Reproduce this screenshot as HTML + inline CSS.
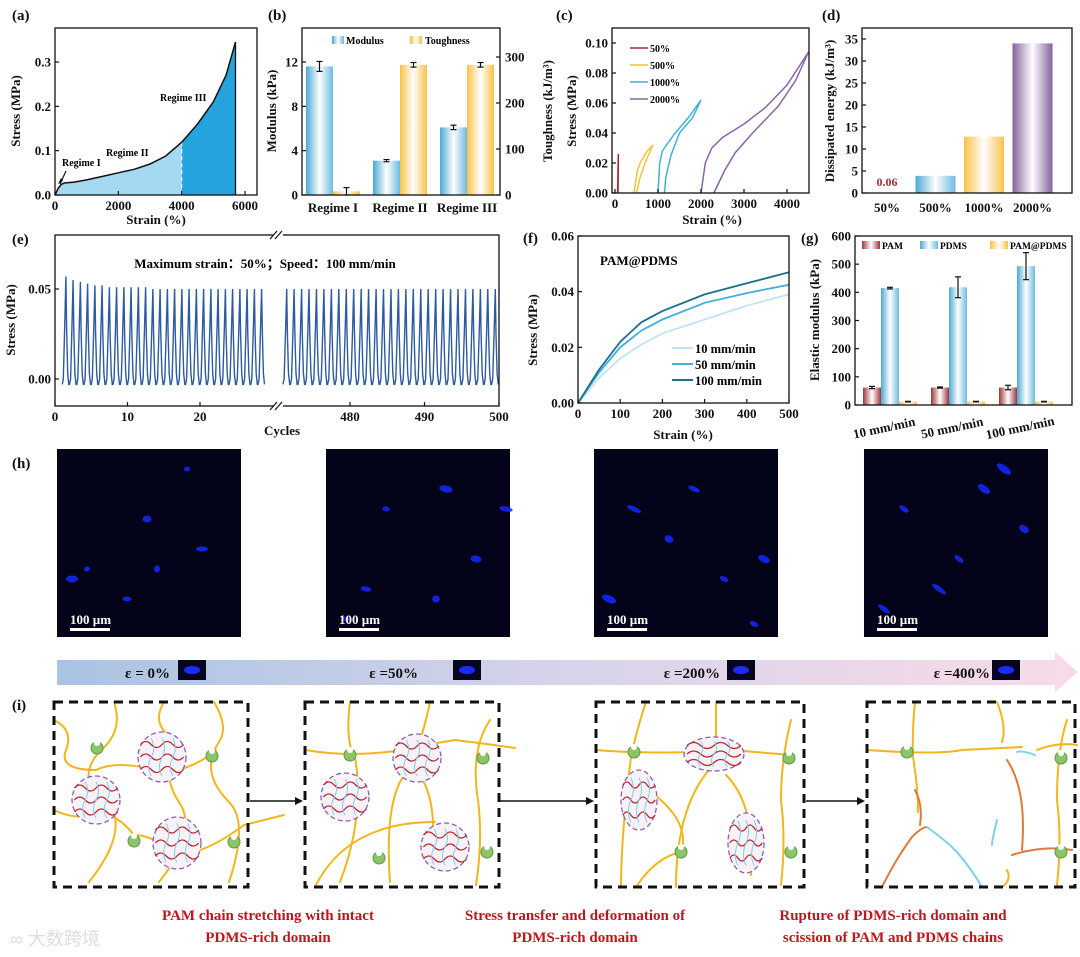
<!DOCTYPE html>
<html><head><meta charset="utf-8">
<style>
html,body{margin:0;padding:0;background:#fff;}
svg{display:block;font-family:"Liberation Serif",serif;}
.tk{font-size:13px;font-weight:bold;fill:#111;}
.tt{font-size:13px;font-weight:bold;fill:#111;}
.pl{font-size:15px;font-weight:bold;fill:#111;}
.rd{font-size:15px;font-weight:bold;fill:#c0161b;}
</style></head>
<body>
<svg id="fig" width="1080" height="957" viewBox="0 0 1080 957" xmlns="http://www.w3.org/2000/svg">
<defs>
<linearGradient id="gBlue" x1="0" x2="1" y1="0" y2="0"><stop offset="0" stop-color="#4aa9d3"/><stop offset="0.5" stop-color="#ffffff"/><stop offset="1" stop-color="#6cbbe0"/></linearGradient>
<linearGradient id="gYel" x1="0" x2="1" y1="0" y2="0"><stop offset="0" stop-color="#f8c24a"/><stop offset="0.5" stop-color="#ffffff"/><stop offset="1" stop-color="#f8c24a"/></linearGradient>
<linearGradient id="gPur" x1="0" x2="1" y1="0" y2="0"><stop offset="0" stop-color="#86629f"/><stop offset="0.5" stop-color="#ffffff"/><stop offset="1" stop-color="#86629f"/></linearGradient>
<linearGradient id="gRed" x1="0" x2="1" y1="0" y2="0"><stop offset="0" stop-color="#9e3538"/><stop offset="0.5" stop-color="#ffffff"/><stop offset="1" stop-color="#9e3538"/></linearGradient>
<linearGradient id="gArrow" x1="0" x2="1" y1="0" y2="0"><stop offset="0" stop-color="#a9c3e3"/><stop offset="0.5" stop-color="#d7d3ea"/><stop offset="1" stop-color="#f9dbe8"/></linearGradient>
</defs>
<g id="root"></g>
</svg>
<script>
// ---------- DATA ----------
const aStrain = [0,100,200,300,600,1000,1500,2000,2500,3000,3500,4000,4500,5000,5400,5700];
const aStress = [0,0.015,0.024,0.027,0.029,0.034,0.042,0.05,0.058,0.07,0.088,0.119,0.16,0.21,0.27,0.345];
const aXTicks = [0,2000,4000,6000];
const aYTicks = [0.0,0.1,0.2,0.3];

const bCats = ["Regime I","Regime II","Regime III"];
const bModulus = [11.6,3.1,6.1];
const bModErr = [0.45,0.1,0.2];
const bTough = [8,283,283];
const bToughErr = [8,5,5];
const bYTicks = [0,4,8,12];
const bY2Ticks = [0,100,200,300];

const cNames = ["50%","500%","1000%","2000%"];
const cColors = ["#a62b2e","#f6c13f","#3fb3d1","#8a64a8"];
const cLoadX = [[60,70,80],[440,520,600,750,880],[1000,1040,1100,1400,1700,2000],[2000,2100,2250,2500,3000,3500,4000,4500]];
const cLoadY = [[0,0.016,0.026],[0,0.015,0.021,0.028,0.032],[0,0.02,0.028,0.04,0.05,0.062],[0,0.02,0.03,0.037,0.046,0.057,0.072,0.094]];
const cUnX = [[80,70],[880,700,580,500],[2000,1800,1500,1300,1180,1150],[4500,4200,3800,3200,2800,2550,2300]];
const cUnY = [[0.026,0],[0.032,0.02,0.01,0],[0.062,0.05,0.04,0.025,0.01,0],[0.094,0.075,0.058,0.04,0.027,0.015,0]];
const cXTicks = [0,1000,2000,3000,4000];
const cYTicks = [0,0.02,0.04,0.06,0.08,0.10];

const dCats = ["50%","500%","1000%","2000%"];
const dVals = [0.06,3.9,12.8,34];
const dYTicks = [0,5,10,15,20,25,30,35];

const ePeaksLeft = [0.057,0.055,0.054,0.053,0.052,0.052,0.051,0.051,0.051,0.051,0.051,0.051,0.05,0.05,0.05,0.05,0.05,0.05,0.05,0.05,0.05,0.05,0.05,0.05,0.05,0.05,0.05,0.05];
const ePeaksRight = [0.05,0.05,0.05,0.05,0.05,0.05,0.05,0.05,0.05,0.05,0.05,0.05,0.05,0.05,0.05,0.05,0.05,0.05,0.05,0.05,0.05,0.05,0.05,0.05,0.05,0.05,0.05,0.05,0.05];
const eValley = -0.003;
const eXTicksL = [0,10,20];
const eXTicksR = [480,490,500];
const eYTicks = [0.00,0.05];

const fStrain = [0,50,100,150,200,300,400,500];
const f10 = [0,0.009,0.016,0.021,0.025,0.030,0.035,0.039];
const f50 = [0,0.011,0.020,0.026,0.030,0.036,0.0395,0.0425];
const f100 = [0,0.012,0.022,0.029,0.033,0.039,0.043,0.047];
const fXTicks = [0,100,200,300,400,500];
const fYTicks = [0,0.02,0.04,0.06];

const gCats = ["10 mm/min","50 mm/min","100 mm/min"];
const gPAM = [62,62,62];
const gPAMErr = [4,2,8];
const gPDMS = [415,418,493];
const gPDMSErr = [3,37,48];
const gMix = [12,12,12];
const gMixErr = [1,1,1];
const gYTicks = [0,100,200,300,400,500,600];

// ---------- HELPERS ----------
const NS = "http://www.w3.org/2000/svg";
const root = document.getElementById("root");
function el(tag, attrs, parent, text){
  const e = document.createElementNS(NS, tag);
  for (const k in attrs) e.setAttribute(k, attrs[k]);
  if (text !== undefined) e.textContent = text;
  (parent || root).appendChild(e);
  return e;
}
function lin(d0,d1,r0,r1){ return v => r0 + (v-d0)*(r1-r0)/(d1-d0); }
function txt(x,y,s,cls,anchor,parent,rot){
  const t = el("text",{x:x,y:y,class:cls,"text-anchor":anchor||"middle"},parent,s);
  if (rot) t.setAttribute("transform","rotate("+rot+" "+x+" "+y+")");
  return t;
}
function box(g,x0,y0,x1,y1){
  el("rect",{x:x0,y:y0,width:x1-x0,height:y1-y0,fill:"none",stroke:"#111","stroke-width":1.3},g);
}
function yTicks(g,ticks,sy,x,fmt,right){
  ticks.forEach(v=>{
    const y = sy(v);
    el("line",{x1:x,x2:x+(right?-4:4),y1:y,y2:y,stroke:"#111","stroke-width":1.2},g);
    txt(right? x+5 : x-4, y+4.5, fmt(v), "tk", right?"start":"end", g);
  });
}
function xTicks(g,ticks,sx,y,fmt){
  ticks.forEach(v=>{
    const x = sx(v);
    el("line",{x1:x,x2:x,y1:y,y2:y-4,stroke:"#111","stroke-width":1.2},g);
    txt(x, y+15, fmt(v), "tk", "middle", g);
  });
}
function pathXY(xs,ys,sx,sy){
  return xs.map((v,i)=>(i?"L":"M")+sx(v).toFixed(1)+","+sy(ys[i]).toFixed(1)).join(" ");
}
function errBar(g,x,yTop,yBot){
  el("line",{x1:x,x2:x,y1:yTop,y2:yBot,stroke:"#111","stroke-width":1.2},g);
  el("line",{x1:x-3,x2:x+3,y1:yTop,y2:yTop,stroke:"#111","stroke-width":1.2},g);
  el("line",{x1:x-3,x2:x+3,y1:yBot,y2:yBot,stroke:"#111","stroke-width":1.2},g);
}

// ---------- PANEL A ----------
(function(){
  const g = el("g",{});
  
  
  const sx = lin(0,6000,55,245), sy = lin(0,0.3,195,62);
  const X0=55,X1=257,Y0=28,Y1=195;
  const idx4 = aStrain.indexOf(4000);
  const xs1 = aStrain.slice(0,idx4+1), ys1 = aStress.slice(0,idx4+1);
  const f1 = el("path",{d:pathXY(xs1,ys1,sx,sy)+" L"+sx(4000)+","+sy(0)+" L"+sx(0)+","+sy(0)+" Z",fill:"#a5d8f1"},g);
  
  const xs2 = aStrain.slice(idx4), ys2 = aStress.slice(idx4);
  const f2 = el("path",{d:pathXY(xs2,ys2,sx,sy)+" L"+sx(5700)+","+sy(0)+" L"+sx(4000)+","+sy(0)+" Z",fill:"#24a3dd"},g);
  
  el("line",{x1:sx(4000),x2:sx(4000),y1:sy(aStress[idx4]),y2:sy(0),stroke:"#fff","stroke-width":1.2,"stroke-dasharray":"4,3"},g);
  el("line",{x1:sx(5700),x2:sx(5700),y1:sy(0.345),y2:sy(0),stroke:"#111","stroke-width":1.3},g);
  const c = el("path",{d:pathXY(aStrain,aStress,sx,sy),fill:"none",stroke:"#111","stroke-width":1.5},g);
  
  box(g,X0,Y0,X1,Y1);
  yTicks(g,aYTicks,sy,X0,v=>v.toFixed(1));
  xTicks(g,aXTicks,sx,Y1,v=>v);
  txt(20,111,"Stress (MPa)","tt","middle",g,-90);
  txt(156,224,"Strain (%)","tt","middle",g);
  txt(12,20,"(a)","pl","start",g);
  el("text",{x:62,y:166,"font-size":"10","font-weight":"bold"},g,"Regime I");
  el("text",{x:106,y:156,"font-size":"10","font-weight":"bold"},g,"Regime II");
  el("text",{x:160,y:101,"font-size":"10","font-weight":"bold"},g,"Regime III");
  el("path",{d:"M66,171 L60,184",stroke:"#111","stroke-width":1.2,fill:"none"},g);
  el("path",{d:"M58,184 L61,178 L63,181 Z",fill:"#111"},g);
})();

// ---------- PANEL B ----------
(function(){
  const g = el("g",{});
  
  
  const X0=302,X1=500,Y0=28,Y1=195;
  const sy = lin(0,12,195,62), sy2 = lin(0,300,195,57);
  const cx = i => 333 + i*67;
  bCats.forEach((c,i)=>{
    const m = el("rect",{x:cx(i)-27,y:sy(bModulus[i]),width:27,height:sy(0)-sy(bModulus[i]),fill:"url(#gBlue)"},g);
    
    
    errBar(g,cx(i)-13.5,sy(bModulus[i]+bModErr[i]),sy(bModulus[i]-bModErr[i]));
    const t = el("rect",{x:cx(i),y:sy2(bTough[i]),width:27,height:sy2(0)-sy2(bTough[i]),fill:"url(#gYel)"},g);
    
    
    errBar(g,cx(i)+13.5,sy2(bTough[i]+bToughErr[i]),sy2(Math.max(0,bTough[i]-bToughErr[i])));
    txt(cx(i),212,c,"tk","middle",g);
  });
  box(g,X0,Y0,X1,Y1);
  yTicks(g,bYTicks,sy,X0,v=>v);
  yTicks(g,bY2Ticks,sy2,X1,v=>v,true);
  txt(276,111,"Modulus (kPa)","tt","middle",g,-90);
  txt(552,111,"Toughness (kJ/m³)","tt","middle",g,-90);
  txt(268,20,"(b)","pl","start",g);
  el("rect",{x:332,y:36,width:12,height:8,fill:"url(#gBlue)"},g);
  el("text",{x:346,y:44,"font-size":"10","font-weight":"bold"},g,"Modulus");
  el("rect",{x:410,y:36,width:12,height:8,fill:"url(#gYel)"},g);
  el("text",{x:425,y:44,"font-size":"10","font-weight":"bold"},g,"Toughness");
})();

// ---------- PANEL C ----------
(function(){
  const g = el("g",{});
  
  
  const X0=612,X1=809,Y0=28,Y1=193;
  const sx = lin(0,4000,615,787), sy = lin(0,0.10,193,43);
  cNames.forEach((n,i)=>{
    const p = el("path",{d:pathXY(cLoadX[i],cLoadY[i],sx,sy)+" "+pathXY(cUnX[i],cUnY[i],sx,sy).replace("M","L"),fill:"none",stroke:cColors[i],"stroke-width":1.5},g);
    
    const ly = 48+i*17;
    el("line",{x1:630,x2:648,y1:ly,y2:ly,stroke:cColors[i],"stroke-width":1.6},g);
    el("text",{x:650,y:ly+4,"font-size":"10","font-weight":"bold"},g,n);
  });
  box(g,X0,Y0,X1,Y1);
  yTicks(g,cYTicks,sy,X0,v=>v.toFixed(2));
  xTicks(g,cXTicks,sx,Y1,v=>v);
  txt(576,111,"Stress (MPa)","tt","middle",g,-90);
  txt(712,224,"Strain (%)","tt","middle",g);
  txt(556,20,"(c)","pl","start",g);
})();

// ---------- PANEL D ----------
(function(){
  const g = el("g",{});
  
  
  const X0=862,X1=1072,Y0=28,Y1=193;
  const sy = lin(0,35,193,39);
  const cx = i => 887 + i*48.5;
  const fills = ["url(#gRed)","url(#gBlue)","url(#gYel)","url(#gPur)"];
  dCats.forEach((c,i)=>{
    const b = el("rect",{x:cx(i)-20,y:sy(dVals[i]),width:40,height:sy(0)-sy(dVals[i]),fill:fills[i]},g);
    
    
    txt(cx(i),212,c,"tk","middle",g);
  });
  el("text",{x:cx(0),y:186,"text-anchor":"middle","font-size":"12","font-weight":"bold",fill:"#a62b2e"},g,dVals[0].toFixed(2));
  box(g,X0,Y0,X1,Y1);
  yTicks(g,dYTicks,sy,X0,v=>v);
  txt(834,111,"Dissipated energy (kJ/m³)","tt","middle",g,-90);
  txt(822,20,"(d)","pl","start",g);
})();

// ---------- PANEL E ----------
(function(){
  const g = el("g",{});
  
  
  const X0=55,X1=499,Y0=235,Y1=406;
  const sy = lin(0,0.05,379,289);
  const sxL = lin(0,20,55,200), sxR = lin(480,500,350,499);
  function wave(peaks,startCycle,sx,name){
    let d="";
    peaks.forEach((p,i)=>{
      const c = startCycle+i;
      const pts = [[c,eValley],[c+0.15,0.0],[c+0.35,p*0.55],[c+0.5,p],[c+0.6,p*0.5],[c+0.75,0.003],[c+0.9,eValley]];
      pts.forEach((q,j)=>{ d += ((i===0&&j===0)?"M":"L")+sx(q[0]).toFixed(1)+","+sy(q[1]).toFixed(1)+" "; });
    });
    const p = el("path",{d:d,fill:"none",stroke:"#2d5aa0","stroke-width":1.4},g);
    
  }
  wave(ePeaksLeft,1,sxL,"cycles-1-to-29");
  wave(ePeaksRight,471,sxR,"cycles-471-to-500");
  box(g,X0,Y0,X1,Y1);
  el("rect",{x:273,y:Y0-3,width:10,height:6,fill:"#fff"},g);
  el("rect",{x:273,y:Y1-3,width:10,height:6,fill:"#fff"},g);
  [Y0,Y1].forEach(y=>{
    el("line",{x1:270,x2:277,y1:y+4,y2:y-4,stroke:"#111","stroke-width":1.2},g);
    el("line",{x1:275,x2:282,y1:y+4,y2:y-4,stroke:"#111","stroke-width":1.2},g);
  });
  yTicks(g,eYTicks,sy,X0,v=>v.toFixed(2));
  xTicks(g,eXTicksL,sxL,Y1,v=>v);
  xTicks(g,eXTicksR,sxR,Y1,v=>v);
  txt(15,320,"Stress (MPa)","tt","middle",g,-90);
  txt(282,435,"Cycles","tt","middle",g);
  txt(12,244,"(e)","pl","start",g);
  el("text",{x:265,y:268,"text-anchor":"middle","font-size":"13","font-weight":"bold"},g,"Maximum strain：50%；Speed：100 mm/min");
})();

// ---------- PANEL F ----------
(function(){
  const g = el("g",{});
  
  
  const X0=578,X1=789,Y0=236,Y1=403;
  const sx = lin(0,500,578,789), sy = lin(0,0.06,403,236);
  const series = [[f10,"#bfe4f3","10 mm/min"],[f50,"#3db0dc","50  mm/min"],[f100,"#1c6e8c","100  mm/min"]];
  series.forEach((s,i)=>{
    const p = el("path",{d:pathXY(fStrain,s[0],sx,sy),fill:"none",stroke:s[1],"stroke-width":1.8},g);
    
    const ly = 348+i*16;
    el("line",{x1:672,x2:693,y1:ly,y2:ly,stroke:s[1],"stroke-width":2},g);
    el("text",{x:695,y:ly+5,"font-size":"12.5","font-weight":"bold"},g,s[2]);
  });
  box(g,X0,Y0,X1,Y1);
  yTicks(g,fYTicks,sy,X0,v=>v.toFixed(2));
  xTicks(g,fXTicks,sx,Y1,v=>v);
  txt(537,330,"Stress (MPa)","tt","middle",g,-90);
  txt(683,439,"Strain (%)","tt","middle",g);
  txt(523,243,"(f)","pl","start",g);
  el("text",{x:600,y:265,"font-size":"13","font-weight":"bold"},g,"PAM@PDMS");
})();

// ---------- PANEL G ----------
(function(){
  const g = el("g",{});
  
  
  const X0=855,X1=1072,Y0=236,Y1=405;
  const sy = lin(0,600,405,236);
  const gx = i => 863 + i*68;
  gCats.forEach((c,i)=>{
    const sets = [[gPAM,gPAMErr,"url(#gRed)"],[gPDMS,gPDMSErr,"url(#gBlue)"],[gMix,gMixErr,"url(#gYel)"]];
    sets.forEach((s,j)=>{
      const x = gx(i)+j*18;
      const b = el("rect",{x:x,y:sy(s[0][i]),width:18,height:sy(0)-sy(s[0][i]),fill:s[2]},g);
      
      
      errBar(g,x+9,sy(s[0][i]+s[1][i]),sy(s[0][i]-s[1][i]));
    });
    txt(gx(i)+22,432,c,"tk","middle",g,-12);
  });
  box(g,X0,Y0,X1,Y1);
  yTicks(g,gYTicks,sy,X0,v=>v);
  txt(819,320,"Elastic modulus (kPa)","tt","middle",g,-90);
  txt(801,243,"(g)","pl","start",g);
  const leg = [["url(#gRed)","PAM",862],["url(#gBlue)","PDMS",920],["url(#gYel)","PAM@PDMS",990]];
  leg.forEach(l=>{
    el("rect",{x:l[2],y:241,width:18,height:8,fill:l[0]},g);
    el("text",{x:l[2]+20,y:249,"font-size":"9.5","font-weight":"bold"},g,l[1]);
  });
})();

// ---------- ROW H ----------
const hImgX = [57,326,594,864];
const hSpotsX = [[30,90,145,100,70,15,130],[60,150,180,110,40,120,20],[130,170,40,75,100,15,160],[40,120,75,160,20,140,95]];
const hSpotsY = [[120,70,100,120,150,130,20],[60,110,60,150,140,40,170],[130,110,60,90,40,150,175],[60,40,140,80,160,20,110]];
(function(){
  const g = el("g",{});
  
  
  txt(12,468,"(h)","pl","start",g);
  hImgX.forEach((x,i)=>{
    const im = el("rect",{x:x,y:449,width:184,height:188,fill:"#03031a"},g);
    
    hSpotsX[i].forEach((sx,k)=>{
      el("ellipse",{cx:x+sx,cy:449+hSpotsY[i][k],rx:3+(k%3)*1.5+i*0.8,ry:2.5+(k%2),fill:"#1428ff",opacity:0.85,transform:"rotate("+(i*12)+" "+(x+sx)+" "+(449+hSpotsY[i][k])+")"},g);
    });
    el("text",{x:x+13,y:624,"font-size":"13","font-weight":"bold",fill:"#fff"},g,"100 µm");
    el("rect",{x:x+13,y:628,width:40,height:3,fill:"#fff"},g);
  });
})();

// ---------- STRAIN ARROW ----------
(function(){
  const g = el("g",{});
  
  
  el("path",{d:"M57,660 L1055,660 L1055,652 L1078,672 L1055,692 L1055,685 L57,685 Z",fill:"url(#gArrow)"},g);
  const labels = [["ε = 0%",170,178],["ε =50%",418,453],["ε =200%",720,727],["ε =400%",990,992]];
  labels.forEach(l=>{
    el("text",{x:l[1],y:678,"text-anchor":"end","font-size":"15","font-weight":"bold",fill:"#111"},g,l[0]);
    el("rect",{x:l[2],y:660,width:28,height:20,fill:"#050520"},g);
    el("ellipse",{cx:l[2]+14,cy:670,rx:8,ry:4,fill:"#1a2cff"},g);
  });
})();

// ---------- ROW I SCHEMATIC ----------
const iBoxX = [54,305,596,867];
const iBoxW = [194,194,208,208];
(function(){
  const g = el("g",{});
  
  
  txt(12,710,"(i)","pl","start",g);
  const Y = 702, H = 185;
  function chain(d,parent,col){ el("path",{d:d,fill:"none",stroke:col||"#f2b51c","stroke-width":2,"stroke-linecap":"round"},parent); }
  function link(x,y,parent){ el("circle",{cx:x,cy:y,r:6,fill:"#8cc46a",stroke:"#5a9a3e","stroke-width":1},parent); el("circle",{cx:x,cy:y-5,r:3,fill:"#fff"},parent); }
  function domain(cx,cy,rx,ry,parent){
    el("ellipse",{cx:cx,cy:cy,rx:rx,ry:ry,fill:"#f6f2f8",stroke:"#8a5fb8","stroke-width":1.3,"stroke-dasharray":"5,3"},parent);
    for(let k=-1;k<=1;k++){
      const y = cy + k*ry*0.5;
      el("path",{d:"M"+(cx-rx*0.9)+","+y+" q"+rx*0.22+",-6 "+rx*0.45+",0 t"+rx*0.45+",0 t"+rx*0.45+",0 t"+rx*0.45+",0",fill:"none",stroke:"#c0262c","stroke-width":1.3},parent);
    }
    for(let k=-1;k<=1;k++){
      el("path",{d:"M"+(cx+k*rx*0.45)+","+(cy-ry*0.75)+" q5,"+ry*0.4+" 0,"+ry*0.75+" q-5,"+ry*0.4+" 0,"+ry*0.75,fill:"none",stroke:"#7fd0e8","stroke-width":1},parent);
    }
  }
  iBoxX.forEach((x,i)=>{
    const gb = el("g",{},g);
    
    
    const w = iBoxW[i];
    if(i===0){
      chain("M"+(x)+",720 q20,10 12,30 q-8,20 30,20 q20,-10 60,0 q30,5 60,-20",gb);
      chain("M"+(x+60)+","+Y+" q10,30 -15,50 q-25,30 10,50 q20,30 -20,80",gb);
      chain("M"+(x+160)+","+Y+" q15,25 5,40 q-20,30 10,60 q20,20 0,80",gb);
      chain("M"+(x+110)+","+Y+" q-15,25 15,40 q-20,30 0,60 q20,30 -20,80",gb);
      chain("M"+(x)+",810 q20,10 40,5 q20,-5 40,20 q20,0 40,20 q30,0 70,-30 l40,-10",gb);
      domain(x+42,800,24,24,gb);
      domain(x+108,757,24,25,gb);
      domain(x+123,843,24,26,gb);
      link(x+43,748,gb); link(x+158,756,gb); link(x+80,841,gb); link(x+180,842,gb);
    } else if(i===1){
      chain("M"+x+",750 q60,10 120,-5 l30,-5 q40,5 60,8",gb);
      chain("M"+(x+45)+","+Y+" q-5,40 5,55 q10,60 -15,125",gb);
      chain("M"+(x+125)+","+Y+" q-10,50 -30,80 q-15,30 -10,100",gb);
      chain("M"+(x+185)+",720 q-20,30 -12,80 q5,40 -2,85",gb);
      chain("M"+(x+10)+","+(Y+H)+" q20,-40 60,-55 q25,-10 60,-10",gb);
      chain("M"+(x+110)+",770 q20,20 18,70",gb);
      domain(x+40,797,24,24,gb);
      domain(x+112,758,24,24,gb);
      domain(x+140,847,24,24,gb);
      link(x+45,755,gb); link(x+178,758,gb); link(x+74,858,gb); link(x+182,852,gb);
    } else if(i===2){
      chain("M"+x+",750 q60,5 135,0 l60,5",gb);
      chain("M"+(x+50)+","+Y+" q-10,30 -15,55 q-10,80 -10,130",gb);
      chain("M"+(x+120)+","+Y+" q0,40 0,60 q-40,40 -40,125",gb);
      chain("M"+(x+195)+",720 q-10,40 -10,80 q5,40 0,85",gb);
      chain("M"+(x+40)+","+(Y+H)+" q20,-30 45,-35 q10,-30 -30,-60",gb);
      chain("M"+(x+130)+",775 q30,30 25,100",gb);
      domain(x+43,800,18,30,gb);
      domain(x+118,754,30,17,gb);
      domain(x+150,843,18,30,gb);
      link(x+38,752,gb); link(x+193,758,gb); link(x+85,852,gb); link(x+195,852,gb);
    } else {
      chain("M"+x+",750 q70,5 95,0 l60,-3",gb);
      chain("M"+(x+150)+",752 q5,-2 18,3",gb,"#7fd0e8");
      chain("M"+(x+48)+","+Y+" q-3,30 -2,55 q5,30 5,55",gb);
      chain("M"+(x+48)+",790 q8,15 5,35",gb,"#e07a3a");
      chain("M"+(x+130)+","+Y+" q10,25 5,40",gb);
      chain("M"+(x+140)+",760 q20,30 15,90",gb,"#e07a3a");
      chain("M"+(x+130)+",820 q-5,20 -5,25",gb,"#7fd0e8");
      chain("M"+(x+170)+",750 q20,-8 40,-5",gb);
      chain("M"+(x+200)+",720 q-10,30 -10,80 q5,40 0,85",gb);
      chain("M"+(x+15)+","+(Y+H)+" q15,-30 30,-50 q10,-10 15,-10",gb,"#e07a3a");
      chain("M"+(x+60)+",827 q20,15 25,20 q15,15 30,40",gb,"#7fd0e8");
      chain("M"+(x+145)+",855 q30,-10 60,-5",gb,"#e07a3a");
      chain("M"+(x+140)+",870 q5,10 -5,17",gb);
      link(x+40,752,gb); link(x+194,758,gb); link(x+194,852,gb);
    }
    el("rect",{x:x,y:Y,width:w,height:H,fill:"none",stroke:"#111","stroke-width":3,"stroke-dasharray":"9,6"},gb);
  });
  [[250,303],[500,594],[806,865]].forEach(a=>{
    el("line",{x1:a[0],x2:a[1]-6,y1:801,y2:801,stroke:"#111","stroke-width":1.5},g);
    el("path",{d:"M"+a[1]+",801 l-8,-4 l0,8 Z",fill:"#111"},g);
  });
  const caps = [["PAM chain stretching with intact","PDMS-rich domain",268],["Stress transfer and deformation of","PDMS-rich domain",575],["Rupture of PDMS-rich domain and","scission of PAM and PDMS chains",893]];
  caps.forEach((c,i)=>{
    const t1 = txt(c[2],920,c[0],"rd","middle",g);
    
    txt(c[2],942,c[1],"rd","middle",g);
  });
  el("text",{x:10,y:945,"font-size":"18","font-family":"\"Liberation Sans\",\"Noto Sans CJK SC\",sans-serif",fill:"#ddd"},g,"∞ 大数跨境");
})();
</script>
</body></html>
